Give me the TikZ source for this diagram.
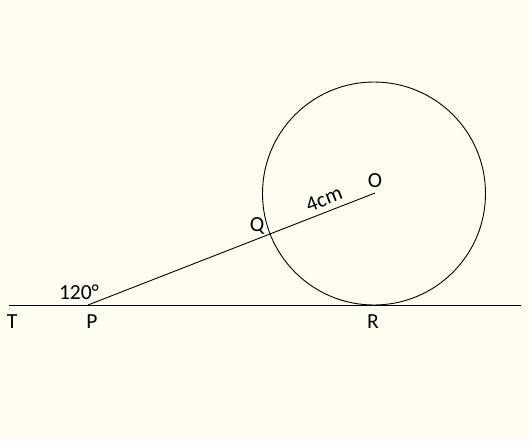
\documentclass[tikz,border=0pt]{standalone}
\usepackage{fontspec}
\setmainfont{Carlito}
\definecolor{bgcream}{RGB}{255,253,240}
\begin{document}
\begin{tikzpicture}[x=1pt,y=-1pt,
  lbl/.style={font=\fontsize{21.5}{24}\selectfont, inner sep=0pt},
  thin line/.style={line width=0.9pt, black}]
\fill[bgcream] (0,0) rectangle (529,440);
\useasboundingbox (0,0) rectangle (529,440);
\coordinate (Tend) at (9,305);
\coordinate (Rend) at (521,305);
\coordinate (P) at (88,305);
\coordinate (O) at (375,193);
\coordinate (R) at (374,305);
\draw[thin line] (Tend) -- (Rend);
\draw[thin line] (P) -- (O);
\draw[thin line] (374,193.5) circle (111.5);
\node[lbl] (lT) at (12,322) {T};
\node[lbl] (lP) at (92,322) {P};
\node[lbl] (lR) at (373,322) {R};
\node[lbl] (lO) at (375,181) {O};
\node[lbl] (lQ) at (257,226) {Q};
\node[lbl] (la) at (79,292) {120°};
\node[lbl, rotate=21.3] (lc) at (324,199) {4cm};
\end{tikzpicture}
\end{document}
